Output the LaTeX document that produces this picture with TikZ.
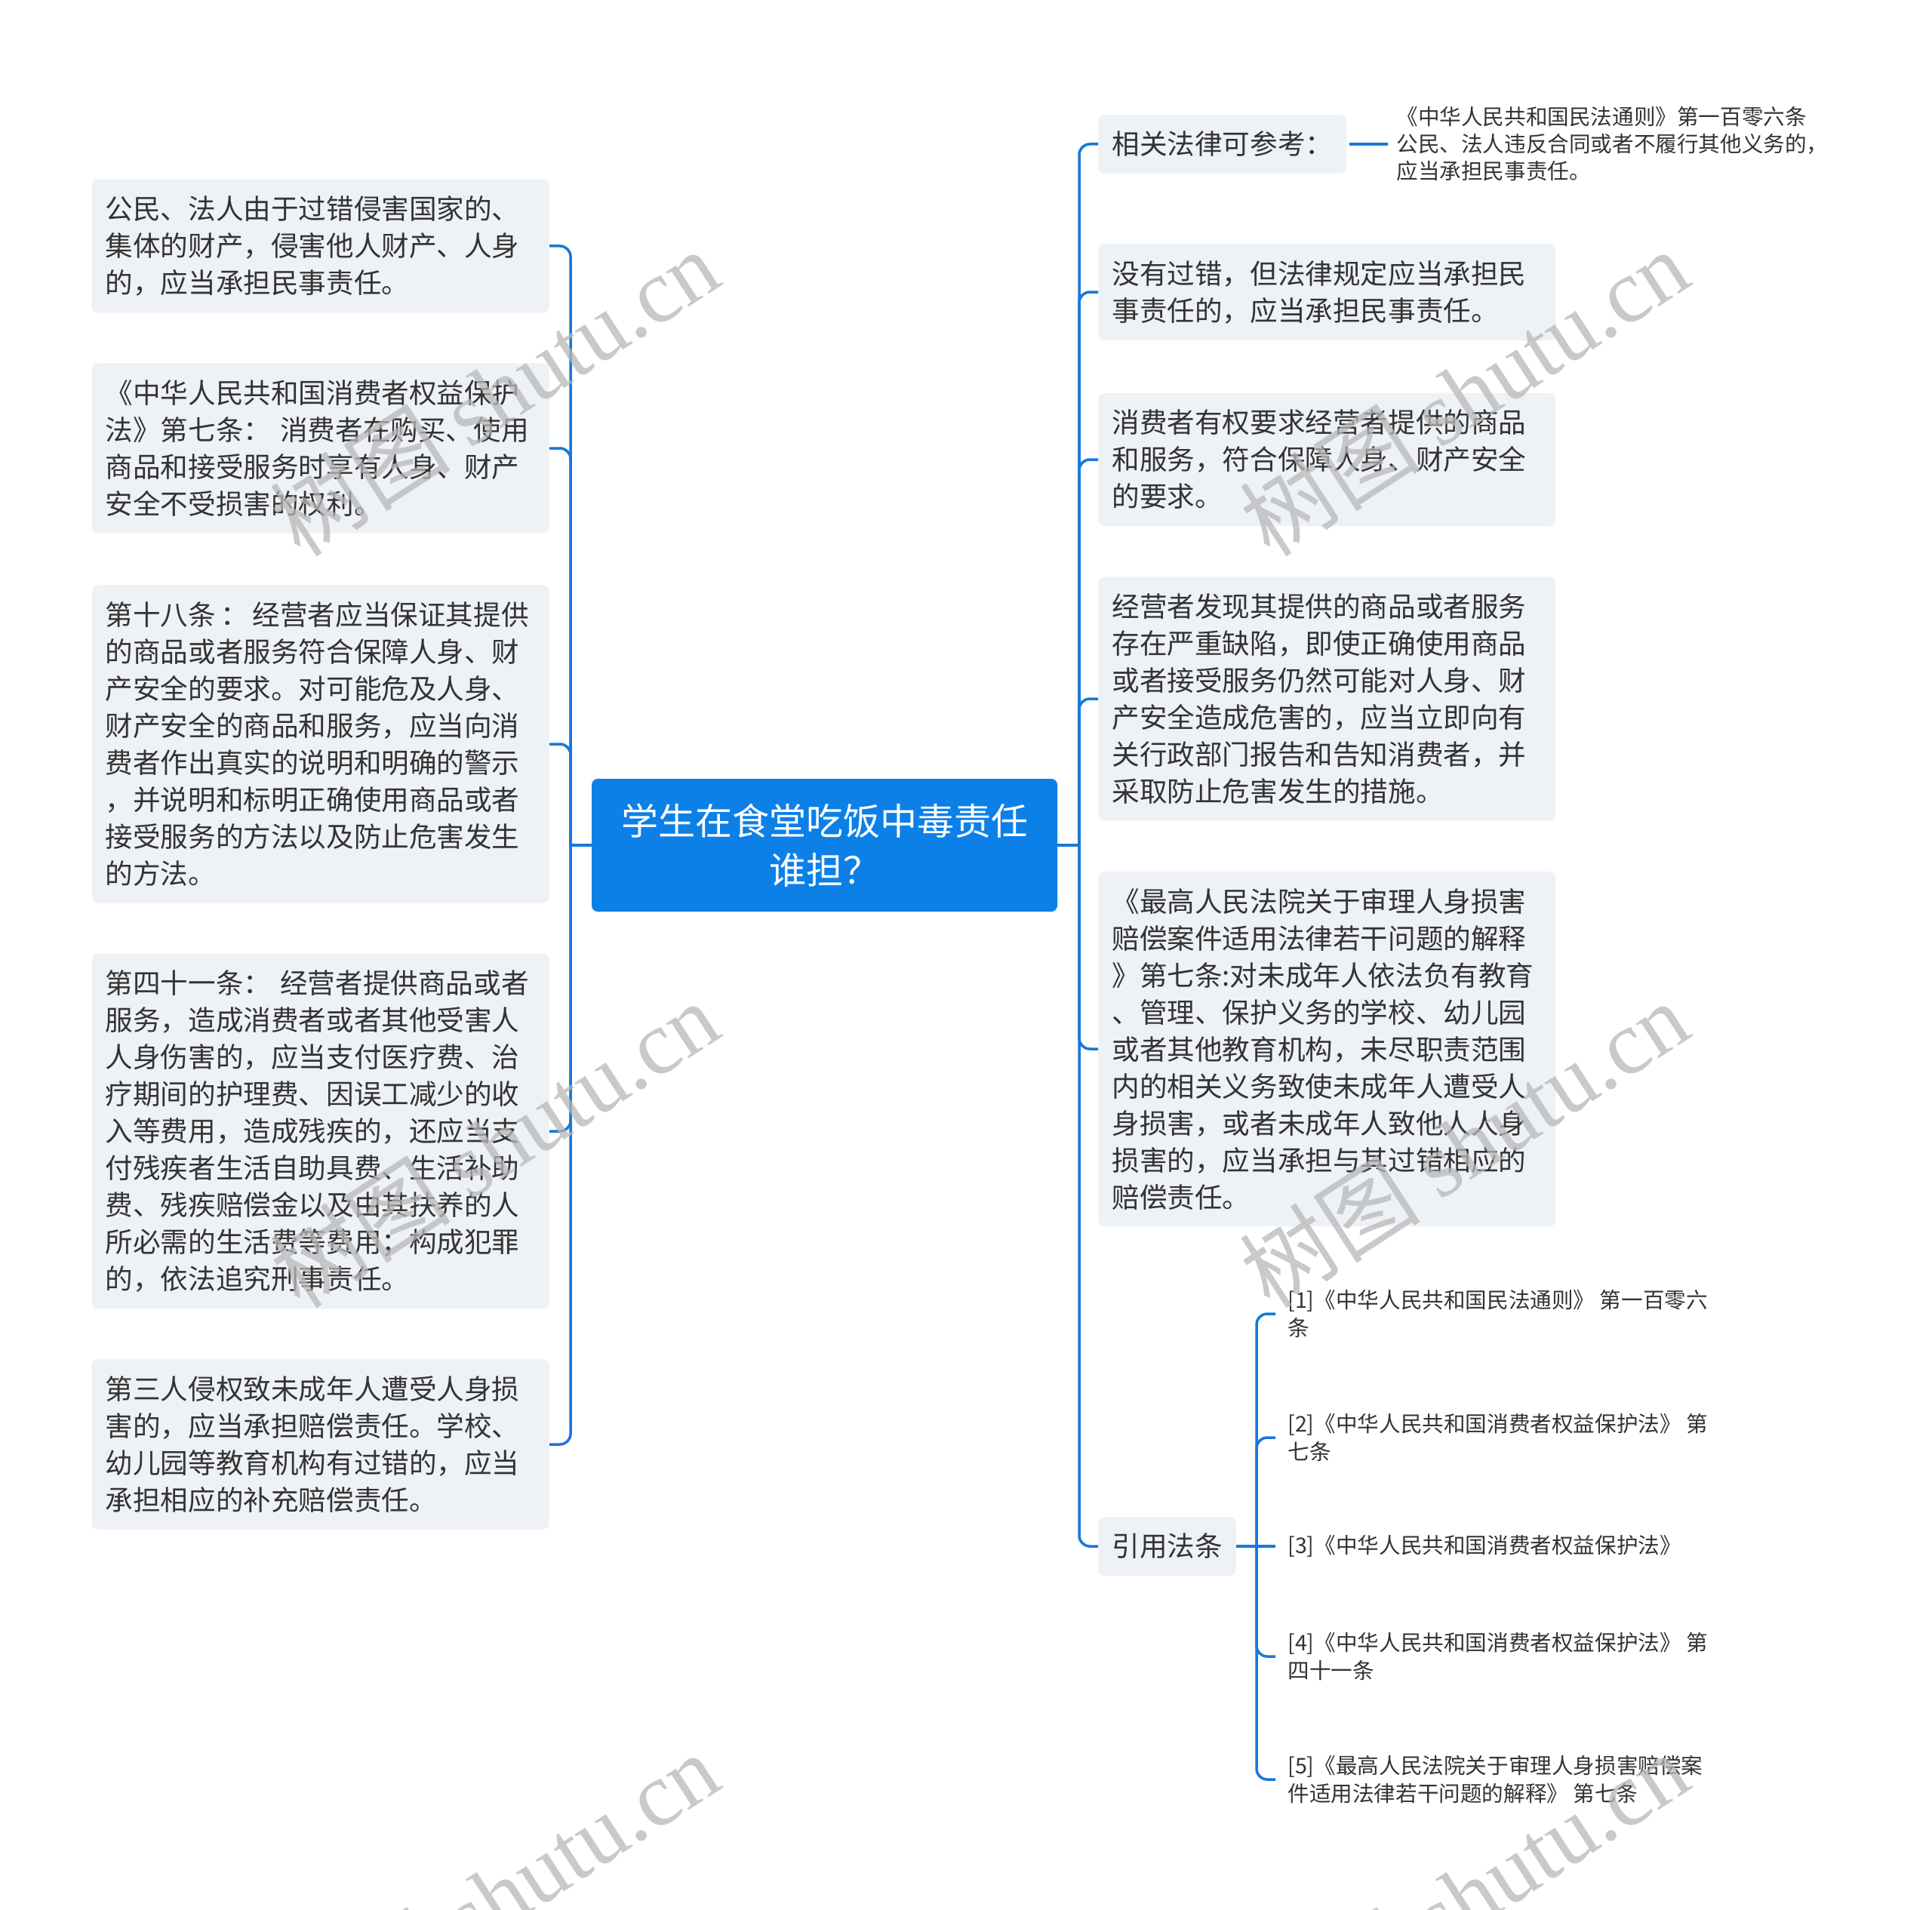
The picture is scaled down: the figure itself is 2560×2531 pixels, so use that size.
\documentclass[tikz,border=0pt]{standalone}
\usepackage{fontspec}
\newfontfamily\cjkfont{Noto Sans CJK SC}
\newfontfamily\wmfont{Liberation Serif}
\definecolor{RootClr}{rgb}{0.05,0.5,0.91}
\definecolor{LinkClr}{rgb}{0.09,0.47,0.85}
\definecolor{BoxClr}{rgb}{0.933,0.945,0.961}
\definecolor{TextClr}{rgb}{0.2,0.2,0.2}
\definecolor{StampClr}{rgb}{0.72,0.72,0.72}

\begin{document}
\begin{tikzpicture}[x=0.5pt,y=-0.5pt,
  topic/.style={fill=BoxClr,rounded corners=4pt,text=TextClr,align=left,
    inner xsep=9pt,inner ysep=11pt,font={\cjkfont\fontsize{18.3pt}{24.5pt}\selectfont}},
  wide/.style={topic,text width=285pt},
  root/.style={fill=RootClr,rounded corners=4pt,text=white,align=center,
    minimum width=308.5pt,minimum height=88pt,font={\cjkfont\fontsize{24.5pt}{32.5pt}\selectfont}},
  note/.style={anchor=west,inner xsep=5.5pt,inner ysep=0pt,align=left,text=TextClr,
    font={\cjkfont\fontsize{14.3pt}{18pt}\selectfont}},
  cite/.style={anchor=west,inner xsep=8pt,inner ysep=0pt,align=left,text=TextClr,
    font={\cjkfont\fontsize{14.3pt}{18.8pt}\selectfont}},
  link/.style={draw=LinkClr,line width=1.75pt,rounded corners=7pt},
  stamp/.style={rotate=33,text=StampClr,opacity=0.75,font={\cjkfont\fontsize{60pt}{60pt}\selectfont}}]

\useasboundingbox[fill=white] (0,0) rectangle (2560,2531);

\node[root] (root) at (1092.5,1120) {学生在食堂吃饭中毒责任\\谁担？};

\coordinate (lhub) at (756,1120);
\coordinate (rhub) at (1430,1120);
\coordinate (chub) at (1665,2049);

% left side
\node[wide,anchor=east] (civil) at (728,326) {公民、法人由于过错侵害国家的、\\集体的财产，侵害他人财产、人身\\的，应当承担民事责任。};
\node[wide,anchor=east] (consumer7) at (728,594) {《中华人民共和国消费者权益保护\\法》第七条：~消费者在购买、使用\\商品和接受服务时享有人身、财产\\安全不受损害的权利。};
\node[wide,anchor=east] (art18) at (728,986) {第十八条\,：\,经营者应当保证其提供\\的商品或者服务符合保障人身、财\\产安全的要求。对可能危及人身、\\财产安全的商品和服务，应当向消\\费者作出真实的说明和明确的警示\\，并说明和标明正确使用商品或者\\接受服务的方法以及防止危害发生\\的方法。};
\node[wide,anchor=east] (art41) at (728,1499) {第四十一条：\,\,经营者提供商品或者\\服务，造成消费者或者其他受害人\\人身伤害的，应当支付医疗费、治\\疗期间的护理费、因误工减少的收\\入等费用，造成残疾的，还应当支\\付残疾者生活自助具费、生活补助\\费、残疾赔偿金以及由其扶养的人\\所必需的生活费等费用；构成犯罪\\的，依法追究刑事责任。};
\node[wide,anchor=east] (thirdparty) at (728,1914) {第三人侵权致未成年人遭受人身损\\害的，应当承担赔偿责任。学校、\\幼儿园等教育机构有过错的，应当\\承担相应的补充赔偿责任。};

% right side
\node[topic,anchor=west] (lawref) at (1455,191) {相关法律可参考：};
\node[note] (lawtext) at (1839,191) {《中华人民共和国民法通则》第一百零六条\\公民、法人违反合同或者不履行其他义务的，\\应当承担民事责任。};
\node[wide,anchor=west] (nofault) at (1455,387) {没有过错，但法律规定应当承担民\\事责任的，应当承担民事责任。};
\node[wide,anchor=west] (safety) at (1455,609) {消费者有权要求经营者提供的商品\\和服务，符合保障人身、财产安全\\的要求。};
\node[wide,anchor=west] (defect) at (1455,926) {经营者发现其提供的商品或者服务\\存在严重缺陷，即使正确使用商品\\或者接受服务仍然可能对人身、财\\产安全造成危害的，应当立即向有\\关行政部门报告和告知消费者，并\\采取防止危害发生的措施。};
\node[wide,anchor=west] (minor) at (1455,1390) {《最高人民法院关于审理人身损害\\赔偿案件适用法律若干问题的解释\\》第七条:对未成年人依法负有教育\\、管理、保护义务的学校、幼儿园\\或者其他教育机构，未尽职责范围\\内的相关义务致使未成年人遭受人\\身损害，或者未成年人致他人人身\\损害的，应当承担与其过错相应的\\赔偿责任。};
\node[topic,anchor=west] (cited) at (1455,2049) {引用法条};

\node[cite] (cite1) at (1690,1741) {[1]《中华人民共和国民法通则》~第一百零六\\条};
\node[cite] (cite2) at (1690,1905) {[2]《中华人民共和国消费者权益保护法》~第\\七条};
\node[cite] (cite3) at (1690,2049) {[3]《中华人民共和国消费者权益保护法》};
\node[cite] (cite4) at (1690,2195) {[4]《中华人民共和国消费者权益保护法》~第\\四十一条};
\node[cite] (cite5) at (1690,2358) {[5]《最高人民法院关于审理人身损害赔偿案\\件适用法律若干问题的解释》~第七条};

\draw[link] (root.west) -- (lhub);
\draw[link] (root.east) -- (rhub);
\foreach \n in {civil,consumer7,art18,art41,thirdparty}
  \draw[link] (lhub) |- (\n.east);
\foreach \n in {lawref,nofault,safety,defect,minor,cited}
  \draw[link] (rhub) |- (\n.west);
\draw[link,shorten <=1.5pt] (lawref.east) -- (lawtext.west);

\draw[link] (cited.east) -- (chub) -- (cite3.west);
\foreach \n in {cite1,cite2,cite4,cite5}
  \draw[link] (chub) |- (\n.west);

\foreach \wx in {655,1940}
  \foreach \wy in {520,1516,2512}
    \node[stamp] (wm-\wx-\wy) at (\wx,\wy) {树图 {\wmfont shutu.cn}};

\end{tikzpicture}
\end{document}
